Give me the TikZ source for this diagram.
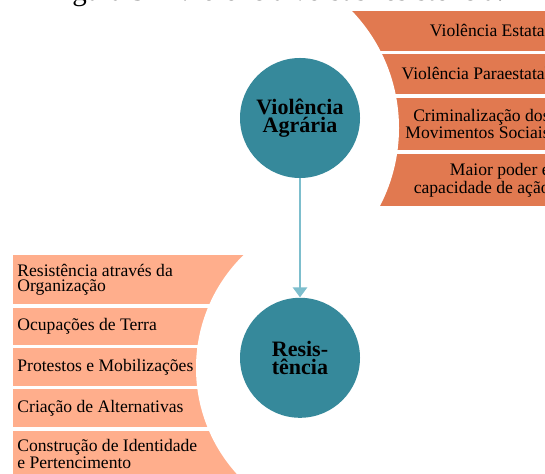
\documentclass[tikz,border=0pt]{standalone}
\usepackage{fontspec}
\setmainfont{Liberation Serif}
\usetikzlibrary{positioning,arrows.meta}
\definecolor{violenceorange}{RGB}{225,121,80}
\definecolor{resistorange}{RGB}{255,174,140}
\definecolor{hubteal}{RGB}{54,137,155}
\definecolor{linkblue}{RGB}{125,190,205}

\begin{document}
\begin{tikzpicture}[
    x=0.5pt, y=-0.5pt,
    hub/.style={circle, fill=hubteal, minimum size=60pt, inner sep=0pt, align=center, font=\bfseries\fontsize{11}{9.2}\selectfont},
    rtext/.style={anchor=east, inner sep=0pt, align=right, font=\fontsize{8.8}{7.3}\selectfont},
    ltext/.style={anchor=west, inner sep=0pt, align=left, font=\fontsize{8.8}{7.3}\selectfont},
    link/.style={draw=linkblue, line width=1.3pt, -{Triangle[width=7pt,length=5pt]}}
]
\useasboundingbox (0,0) rectangle (545,474);
\clip (0,0) rectangle (545,474);

\foreach \ya/\yb in {10.7/50.7, 54/94, 98/150, 154/206}
  \fill[violenceorange] (300,\ya) rectangle (560,\yb);
\fill[white] (230,128) circle (169);
\foreach \ya/\yb in {255/304, 308/345, 348/386, 389/427, 431/490}
  \fill[resistorange] (13,\ya) rectangle (300,\yb);
\fill[white] (354,368) circle (158);

\node[hub] (agraria) at (300,118) {Violência\\Agrária};
\node[hub, below=59.5pt of agraria] (resistencia) {Resis-\\tência};
\draw[link] (agraria) -- (resistencia);

\node[rtext] (estatal) at (550,30.7) {Violência Estatal};
\node[rtext] (paraestatal) at (550,74) {Violência Paraestatal};
\node[rtext] (criminalizacao) at (550,124) {Criminalização dos\\Movimentos Sociais};
\node[rtext] (poder) at (550,180) {Maior poder e\\capacidade de ação};

\node[ltext] (organizacao) at (17,280) {Resistência através da\\Organização};
\node[ltext] (ocupacoes) at (17,326.5) {Ocupações de Terra};
\node[ltext] (protestos) at (17,367) {Protestos e Mobilizações};
\node[ltext] (alternativas) at (17,408) {Criação de Alternativas};
\node[ltext] (identidade) at (17,454) {Construção de Identidade\\e Pertencimento};

\node[anchor=base, font=\fontsize{14.5}{16}\selectfont] (titulo) at (276,0.8) {Figura 5 – Violência versus resistência.};

\end{tikzpicture}
\end{document}
